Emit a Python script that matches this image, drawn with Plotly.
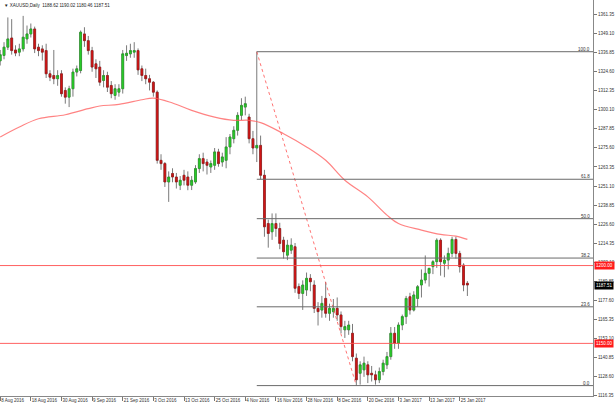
import plotly.graph_objects as go

# ---------------- data (XAUUSD daily) ----------------
opens = [1331.5,1335.0,1340.3,1346.2,1338.5,1337.1,1339.2,1345.6,1348.8,1352.0,
         1340.3,1339.2,1338.1,1323.2,1322.1,1320.0,1323.2,1312.5,1308.2,1313.6,
         1324.3,1325.3,1348.8,1344.5,1338.1,1329.6,1327.5,1318.9,1322.1,1315.7,
         1309.3,1311.4,1313.6,1334.9,1336.0,1337.1,1338.1,1326.4,1322.1,1320.0,
         1317.8,1311.4,1267.6,1265.5,1253.7,1259.1,1256.9,1251.6,1258.0,1256.9,
         1251.6,1253.7,1262.3,1268.7,1266.5,1263.3,1264.4,1273.0,1266.5,1267.6,
         1276.2,1281.5,1286.9,1296.5,1301.8,1295.4,1281.5,1275.5,1277.2,1258.0,
         1227.0,1221.7,1227.0,1223.8,1216.3,1206.7,1209.9,1212.1,1186.5,1182.1,
         1184.3,1191.8,1187.5,1172.5,1171.4,1178.9,1169.3,1170.4,1172.5,1168.3,
         1158.7,1158.7,1156.5,1140.5,1130.8,1133.0,1136.2,1130.8,1129.8,1126.6,
         1131.9,1136.2,1141.5,1156.5,1150.1,1161.8,1167.2,1180.0,1171.4,1178.9,
         1187.5,1190.7,1195.0,1199.3,1202.5,1216.3,1201.5,1203.5,1207.8,1216.8,
         1207.8,1200.3,1188.62]
highs = [1338.5,1343.5,1359.4,1358.3,1341.5,1342.5,1360.4,1354.2,1355.5,1353.5,
         1342.5,1341.5,1342.5,1325.5,1338.5,1325.5,1325.5,1314.5,1315.5,1326.5,
         1328.5,1351.0,1353.1,1347.5,1340.5,1332.5,1331.5,1325.5,1324.5,1318.5,
         1316.5,1316.5,1338.5,1341.5,1342.5,1343.5,1339.5,1328.5,1326.5,1322.5,
         1318.5,1312.5,1271.5,1266.5,1260.5,1262.5,1259.5,1257.5,1261.5,1260.5,
         1257.5,1264.5,1271.5,1272.5,1268.5,1267.5,1275.5,1275.0,1272.5,1282.5,
         1284.5,1289.5,1298.5,1307.5,1308.5,1297.5,1286.5,1337.38,1283.5,1261.5,
         1229.5,1233.5,1233.5,1227.5,1218.5,1216.5,1217.5,1214.5,1188.5,1190.5,
         1195.5,1194.5,1190.5,1176.5,1180.5,1189.5,1175.5,1178.5,1179.5,1170.5,
         1164.5,1164.5,1162.5,1143.5,1138.5,1141.5,1138.5,1135.5,1132.5,1134.5,
         1139.5,1144.5,1160.5,1160.5,1163.5,1168.5,1180.5,1182.5,1183.5,1187.5,
         1197.5,1206.5,1198.5,1203.5,1217.5,1217.5,1206.5,1211.5,1218.5,1218.5,
         1209.5,1201.5,1190.02]
lows = [1328.5,1332.5,1338.5,1335.5,1334.5,1334.5,1337.5,1342.5,1346.5,1336.5,
        1334.5,1331.7,1320.5,1318.5,1316.5,1315.5,1308.5,1304.0,1301.8,1308.5,
        1321.5,1323.5,1340.5,1335.5,1324.5,1320.5,1315.5,1314.5,1311.5,1307.5,
        1306.5,1308.5,1310.5,1331.5,1333.5,1333.5,1322.5,1318.5,1316.5,1312.5,
        1308.5,1265.5,1261.5,1250.5,1240.9,1253.5,1249.5,1248.5,1251.5,1248.4,
        1248.5,1252.5,1259.5,1260.5,1258.5,1259.5,1261.5,1263.5,1263.5,1262.5,
        1271.5,1278.5,1283.5,1293.5,1296.5,1278.5,1271.5,1266.5,1255.5,1218.5,
        1211.5,1216.5,1218.5,1210.5,1204.5,1203.5,1207.5,1182.5,1178.5,1171.5,
        1180.5,1183.5,1169.5,1161.5,1166.5,1166.5,1164.5,1166.5,1164.5,1156.5,
        1153.5,1155.5,1138.5,1122.88,1123.5,1128.5,1124.5,1125.5,1123.5,1124.5,
        1129.5,1133.5,1139.5,1146.5,1146.5,1158.5,1162.5,1168.5,1170.5,1173.5,
        1179.5,1188.5,1186.5,1194.5,1198.5,1193.5,1192.5,1197.5,1205.5,1204.5,
        1195.5,1183.5,1180.46]
closes = [1335.5,1340.3,1345.6,1338.1,1336.5,1339.2,1346.7,1348.8,1352.0,1339.2,
          1338.1,1337.1,1323.2,1321.0,1320.0,1322.1,1310.4,1308.2,1313.6,1324.3,
          1326.4,1349.9,1344.5,1338.1,1327.5,1326.4,1317.8,1322.1,1314.6,1310.4,
          1313.6,1313.6,1336.0,1336.4,1338.1,1338.1,1325.7,1322.1,1320.0,1317.8,
          1311.4,1267.6,1265.5,1253.7,1256.9,1256.9,1253.7,1254.8,1254.8,1251.6,
          1254.8,1262.3,1268.7,1265.5,1264.4,1265.5,1273.0,1265.5,1269.8,1276.2,
          1282.6,1286.9,1296.5,1302.9,1304.0,1281.5,1275.5,1277.2,1258.0,1224.9,
          1220.6,1227.0,1223.8,1214.2,1208.9,1213.1,1213.1,1185.4,1182.1,1187.5,
          1191.8,1189.6,1172.5,1170.4,1175.7,1169.3,1172.5,1172.5,1168.3,1160.8,
          1160.8,1161.8,1141.5,1126.6,1136.2,1137.3,1129.8,1129.8,1126.6,1131.9,
          1137.3,1141.5,1156.5,1150.1,1161.8,1167.2,1178.9,1171.4,1181.1,1186.4,
          1190.7,1195.0,1198.2,1202.5,1216.3,1202.5,1203.5,1207.8,1216.8,1207.8,
          1199.3,1187.5,1187.51]

# moving average read at selected bars
ma_bars = [0, 5, 10, 17, 23, 26, 31, 37, 40, 45, 50, 56, 61, 65, 68, 74, 80,
           85, 90, 96, 101, 104, 110, 115, 119, 122]
ma_values = [1282.6, 1289.0, 1294.3, 1296.9, 1300.8, 1302.5, 1303.5, 1306.5,
             1307.6, 1304.4, 1299.7, 1295.4, 1293.3, 1293.3, 1291.8, 1284.7,
             1276.2, 1267.6, 1254.8, 1244.1, 1232.4, 1227.0, 1222.8, 1220.0,
             1218.9, 1216.8]

# x-axis date labels (every 8 bars)
date_labels = ["8 Aug 2016", "18 Aug 2016", "30 Aug 2016", "9 Sep 2016",
               "21 Sep 2016", "3 Oct 2016", "13 Oct 2016", "25 Oct 2016",
               "4 Nov 2016", "16 Nov 2016", "28 Nov 2016", "8 Dec 2016",
               "20 Dec 2016", "3 Jan 2017", "13 Jan 2017", "25 Jan 2017"]
date_label_bars = [0, 8, 16, 24, 32, 40, 48, 56, 64, 72, 80, 88, 96, 104, 112, 120]

# price scale labels
price_ticks = [1116.35, 1128.60, 1140.85, 1153.10, 1165.35, 1177.60, 1189.85,
               1202.10, 1214.35, 1226.60, 1238.85, 1251.10, 1263.35, 1275.60,
               1287.85, 1300.10, 1312.35, 1324.60, 1336.85, 1349.10, 1361.35]

# fibonacci retracement (swing high / swing low)
fib_high_bar, fib_high = 67, 1337.38
fib_low_bar, fib_low = 93, 1122.88
fib_ratios = [0.0, 23.6, 38.2, 50.0, 61.8, 100.0]

# horizontal support/resistance lines
hlines = [1200.00, 1150.00]
last_price = 1187.51

header = "\u25BC XAUUSD,Daily  1188.62 1190.02 1180.46 1187.51"

# ---------------- figure ----------------
FONT = "Liberation Sans"
FS = 4.5
bars = list(range(len(opens)))
X_MAX = 154.8
Y_MIN, Y_MAX = 1116.2, 1370.6

body_top = [max(o, c) for o, c in zip(opens, closes)]
body_bot = [min(o, c) for o, c in zip(opens, closes)]

fig = go.Figure()
# wicks + outline
fig.add_trace(go.Candlestick(
    x=bars, open=opens, high=highs, low=lows, close=closes,
    increasing=dict(line=dict(color="#7a7a7a", width=1), fillcolor="#22c322"),
    decreasing=dict(line=dict(color="#7a7a7a", width=1), fillcolor="#d01414"),
    whiskerwidth=0, showlegend=False, hoverinfo="skip"))
# coloured bodies on top
fig.add_trace(go.Candlestick(
    x=bars, open=opens, high=body_top, low=body_bot, close=closes,
    increasing=dict(line=dict(color="#1c9a1c", width=0.5), fillcolor="#2bd02b"),
    decreasing=dict(line=dict(color="#9a1010", width=0.5), fillcolor="#d41616"),
    whiskerwidth=0, showlegend=False, hoverinfo="skip"))

fig.add_trace(go.Scatter(x=ma_bars, y=ma_values, mode="lines",
                         line=dict(color="rgba(255,90,90,0.75)", width=1.2, shape="spline"),
                         showlegend=False, hoverinfo="skip"))

fig.add_trace(go.Scatter(x=[fib_high_bar, fib_low_bar], y=[fib_high, fib_low],
                         mode="lines",
                         line=dict(color="rgba(255,80,80,0.8)", width=1, dash="dot"),
                         showlegend=False, hoverinfo="skip"))

shapes = []
annotations = []
for r in fib_ratios:
    lvl = fib_low + (fib_high - fib_low) * r / 100.0
    shapes.append(dict(type="line", xref="x", yref="y", x0=fib_high_bar, x1=X_MAX,
                       y0=lvl, y1=lvl, line=dict(color="#6a6a6a", width=1)))
    annotations.append(dict(xref="paper", yref="y", x=0.998, y=lvl, text="%.1f" % r,
                            xanchor="right", yanchor="bottom", showarrow=False,
                            font=dict(size=FS, color="#333333", family=FONT),
                            yshift=-2))

for h in hlines:
    shapes.append(dict(type="line", xref="paper", yref="y", x0=0, x1=1, y0=h, y1=h,
                       line=dict(color="rgba(255,80,80,0.9)", width=1)))
    annotations.append(dict(xref="paper", yref="y", x=1, y=h, text="%.2f" % h,
                            xanchor="left", yanchor="middle", showarrow=False,
                            bgcolor="#ff1a1a", borderpad=1, xshift=1,
                            font=dict(size=FS, color="white", family=FONT)))

annotations.append(dict(xref="paper", yref="y", x=1, y=last_price, text="%.2f" % last_price,
                        xanchor="left", yanchor="middle", showarrow=False,
                        bgcolor="#000000", borderpad=1, xshift=1,
                        font=dict(size=FS, color="white", family=FONT)))

annotations.append(dict(xref="paper", yref="paper", x=0.003, y=0.998, text=header,
                        xanchor="left", yanchor="top", showarrow=False,
                        font=dict(size=FS, color="#222222", family=FONT)))

fig.update_layout(
    width=615, height=410,
    margin=dict(l=0, r=22, t=0, b=14),
    paper_bgcolor="white", plot_bgcolor="white",
    hovermode=False,
    shapes=shapes, annotations=annotations,
    xaxis=dict(range=[-0.05, X_MAX], rangeslider=dict(visible=False),
               tickvals=date_label_bars, ticktext=date_labels, tickangle=0,
               ticks="outside", ticklen=4, tickcolor="#777777",
               ticklabelposition="outside right",
               showline=True, linecolor="#888888", linewidth=1,
               showgrid=False, zeroline=False,
               tickfont=dict(size=FS, color="#333333", family=FONT)),
    yaxis=dict(range=[Y_MIN, Y_MAX], side="right",
               tickvals=price_ticks, ticktext=["%.2f" % v for v in price_ticks],
               ticks="outside", ticklen=3, tickcolor="#777777",
               showline=True, linecolor="#888888", linewidth=1,
               showgrid=False, zeroline=False,
               tickfont=dict(size=FS, color="#333333", family=FONT)),
)

fig.write_html("out.html", config={"displayModeBar": False},
               post_script="document.body.style.margin='0';document.body.style.padding='0';")
